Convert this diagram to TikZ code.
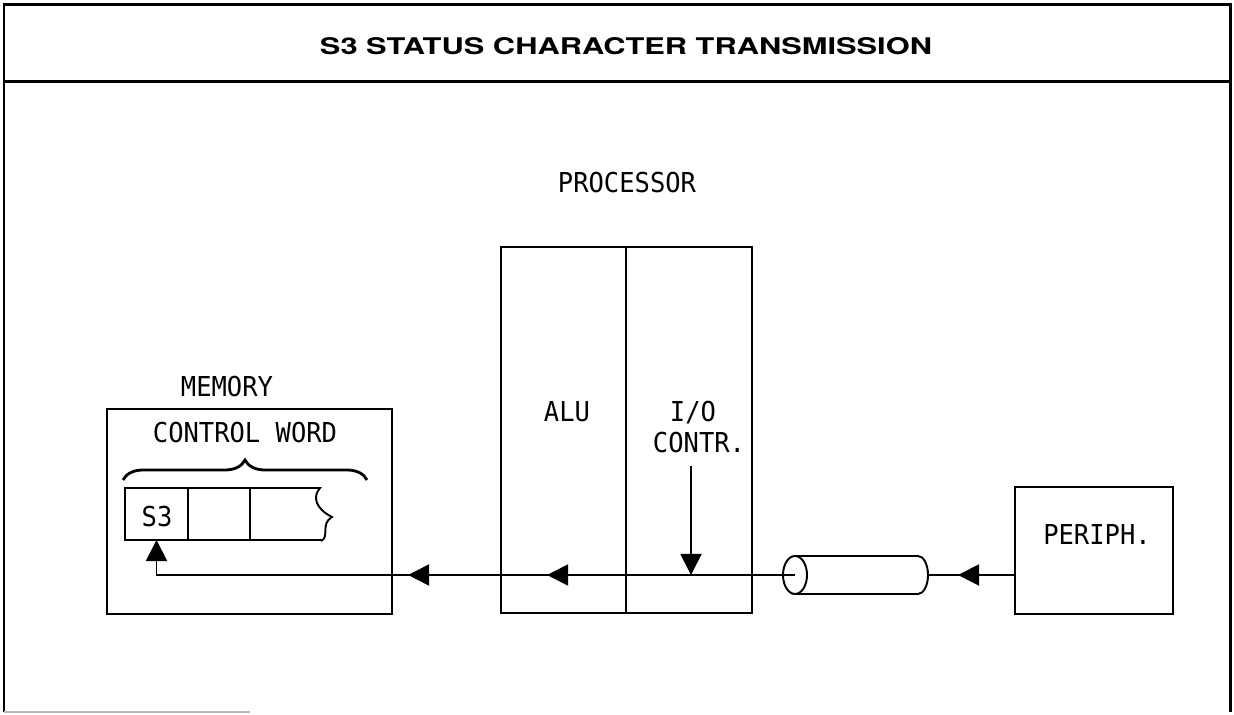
\documentclass[tikz,border=0pt]{standalone}
\usepackage{graphicx}
\usepackage{fontspec}
\newfontfamily\labfont[FakeStretch=0.93]{DejaVu Sans Mono}
\newfontfamily\titlefont{TeX Gyre Heros}
\usetikzlibrary{arrows.meta,decorations.pathreplacing,decorations.markings}
\newlength\px \setlength\px{0.02cm}
\begin{document}
\begin{tikzpicture}[x=0.02cm, y=-0.02cm,
  frameline/.style={line width=1.7pt},
  box/.style={draw, line width=1.1pt, inner sep=0pt, outer sep=0pt},
  lab/.style={font=\labfont\fontsize{15.6pt}{18pt}\selectfont, inner sep=0pt, anchor=base},
  conn/.style={line width=1.1pt},
  >={Triangle[length=12pt,width=12pt]}]
\useasboundingbox (0,0) rectangle (1234,715);
% frame
\draw[frameline] (4,712) -- (4,5) -- (1230,5) -- (1230,712);
\draw[frameline] (4,82) -- (1230,82);
\draw[gray!55, line width=0.8pt] (4,712) -- (250,712);
\node[inner sep=0pt] (title) at (626,46.5) {\resizebox{612\px}{17\px}{\titlefont\bfseries S3 STATUS CHARACTER TRANSMISSION}};
% processor
\node[lab] (proc) at (627,193) {PROCESSOR};
\node[box, minimum width=125\px, minimum height=366\px] (alu) at (563.5,430) {};
\node[box, minimum width=126\px, minimum height=366\px] (io) at (689,430) {};
\node[lab] (alut) at (567,422) {ALU};
\node[lab] (iot) at (693,422) {I/O};
\node[lab] (contr) at (699,453) {CONTR.};
% memory
\node[lab] (memt) at (227,397) {MEMORY};
\node[box, minimum width=285\px, minimum height=205\px] (mem) at (249.5,511.5) {};
\node[lab] (cw) at (245,443) {CONTROL WORD};
\node[box, minimum width=63\px, minimum height=52\px] (s3) at (156.5,514) {};
\node[box, minimum width=62\px, minimum height=52\px] (c2) at (219,514) {};
\node[lab] (s3t) at (157,527) {S3};
\draw[conn] (c2.north east) -- (320,488)
  .. controls (312,497) and (316,509) .. (332,517)
  .. controls (320,524) and (330,537) .. (321,541);
\draw[conn] (c2.south east) -- (322,540);
\draw[decorate, decoration={brace, amplitude=0.4cm}, line width=1.6pt] (123,480) -- (367,480);
% periph
\node[box, minimum width=158\px, minimum height=127\px] (per) at (1094,550.5) {};
\node[lab] (pert) at (1097,545) {PERIPH.};
% cylinder
\coordinate (cylL) at (795,575);
\coordinate (cylR) at (928,575);
\draw[conn] (cylL) ellipse [x radius=0.24cm, y radius=0.38cm];
\draw[conn] (795,556) -- (918,556) arc[start angle=90, end angle=-90, x radius=0.2cm, y radius=0.38cm] -- (795,594);
% connectors
\draw[conn, ->, postaction={decorate}, decoration={markings,
    mark=at position 4.96cm with {\arrow{>}},
    mark=at position 7.74cm with {\arrow{>}}}]
  (cylL) -| (s3.south);
\draw[conn, postaction={decorate}, decoration={markings,
    mark=at position 1.14cm with {\arrow{>}}}]
  (cylR -| per.west) -- (cylR);
\coordinate (ioTop) at (691,466);
\draw[conn, ->] (ioTop) -- (ioTop |- cylL);
\end{tikzpicture}
\end{document}
